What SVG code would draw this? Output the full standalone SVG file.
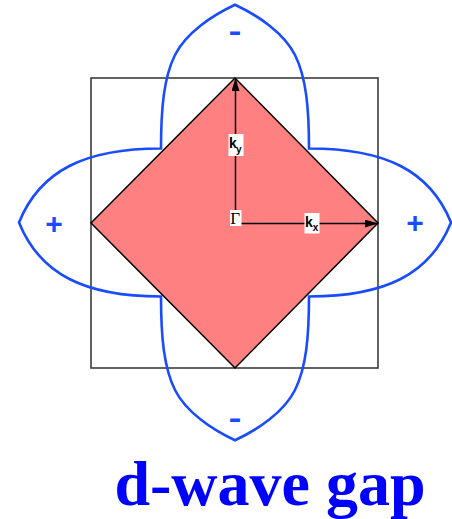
<svg xmlns="http://www.w3.org/2000/svg" width="452" height="519" viewBox="0 0 452 519">
<style>
.frame{fill:none;stroke:#3c3c3c;stroke-width:1.6}
.diamond{fill:#ff8080;stroke:#000;stroke-width:1.5;stroke-linejoin:miter}
.lobe{fill:none;stroke:#1a4cff;stroke-width:2.6;stroke-linejoin:miter}
.axis{stroke:#000;stroke-width:1.5;fill:none}
.sign{font-family:"Liberation Sans",Arial,sans-serif;font-weight:bold;font-size:30px;fill:#1a4cff;text-anchor:middle}
.lblbg{fill:#fff}
.k{font-family:"Liberation Sans",Arial,sans-serif;font-weight:bold;font-size:14px;fill:#000}
.sub{font-family:"Liberation Sans",Arial,sans-serif;font-weight:bold;font-size:10px;fill:#000}
.gamma{font-family:"Liberation Serif","Times New Roman",serif;font-size:17px;fill:#000}
.title{font-family:"Liberation Serif","Times New Roman",serif;font-weight:bold;font-size:64px;fill:#0000ff;text-anchor:middle}
</style>
<defs>
<marker id="arrow" viewBox="0 0 13 8" refX="13" refY="4" markerWidth="13" markerHeight="8" markerUnits="userSpaceOnUse" orient="auto">
<path d="M0,0 L13,4 L0,8 Z" fill="#000"/>
</marker>
</defs>
<g id="zone-frame">
<rect class="frame" x="91" y="78" width="287" height="290"/>
</g>
<g id="fermi-diamond">
<path class="diamond" d="M235,78 L378,223 L235,368 L91,223 Z"/>
</g>
<g id="gap-lobes">
<path class="lobe" d="M161,148.5 C161,108.5 163.8,77.4 175,55 C186.2,32.65 212.35,15.3 235,4.7 C257.65,15.3 283.8,32.65 295,55 C306.2,77.4 309,108.5 309,148.5 C385,148.5 430,170.5 451,222.5 C430,274.5 385,296.5 309,296.5 C309,336.5 306.2,367.6 295,390 C283.8,412.35 257.65,429.7 235,440.3 C212.35,429.7 186.2,412.35 175,390 C163.8,367.6 161,336.5 161,296.5 C85,296.5 40,274.5 19,222.5 C40,170.5 85,148.5 161,148.5 Z"/>
</g>
<g id="connectors">
<line class="axis" x1="235.5" y1="212" x2="235.5" y2="78" marker-end="url(#arrow)"/>
<line class="axis" x1="240" y1="223.5" x2="378" y2="223.5" marker-end="url(#arrow)"/>
</g>
<g id="sign-top"><text class="sign" x="235" y="41" textLength="13" lengthAdjust="spacingAndGlyphs">-</text></g>
<g id="sign-bottom"><text class="sign" x="235" y="428" textLength="13" lengthAdjust="spacingAndGlyphs">-</text></g>
<g id="sign-left"><text class="sign" x="54" y="233.5">+</text></g>
<g id="sign-right"><text class="sign" x="415" y="232.5">+</text></g>
<g id="label-ky">
<rect class="lblbg" x="228.5" y="134" width="15" height="22"/>
<text class="k" x="229" y="148.3">k</text>
<text class="sub" x="236" y="153">y</text>
</g>
<g id="label-kx">
<rect class="lblbg" x="304.5" y="213" width="15" height="20.5"/>
<text class="k" x="305" y="226.7">k</text>
<text class="sub" x="312.8" y="231">x</text>
</g>
<g id="label-gamma">
<rect class="lblbg" x="230" y="210" width="11.5" height="16"/>
<text class="gamma" x="230.3" y="223.8">Γ</text>
</g>
<g id="title">
<text class="title" x="270" y="505">d-wave gap</text>
</g>
</svg>
